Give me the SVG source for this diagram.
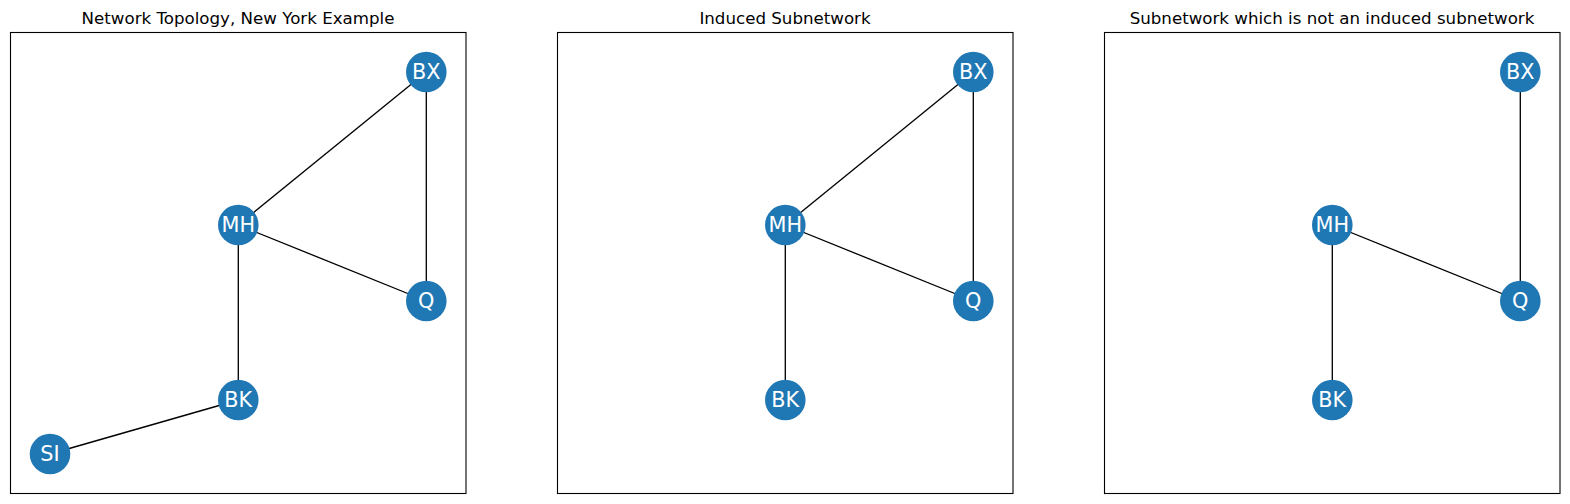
<svg xmlns="http://www.w3.org/2000/svg" width="1570" height="504" viewBox="0 0 1570 504">
<style>
.frame{fill:none;stroke:#000;stroke-width:1.1}
.title{font-family:"DejaVu Sans",sans-serif;font-size:16.67px;fill:#000;text-anchor:middle}
.edge{stroke:#000;stroke-width:1.33;fill:none}
.node circle{fill:#1f77b4}
.node text{font-family:"DejaVu Sans",sans-serif;font-size:20.8px;fill:#fff;text-anchor:middle;dominant-baseline:central}
</style>
<rect width="1570" height="504" fill="#fff"/>
<g id="panel1">
<rect class="frame" x="10.5" y="32.5" width="455.5" height="461"/>
<text class="title" x="238" y="24">Network Topology, New York Example</text>
<g id="connectors1">
<line class="edge" x1="426.3" y1="72" x2="238.3" y2="225"/>
<line class="edge" x1="426.3" y1="72" x2="426.3" y2="301"/>
<line class="edge" x1="238.3" y1="225" x2="426.3" y2="301"/>
<line class="edge" x1="238.3" y1="225" x2="238.3" y2="400"/>
<line class="edge" x1="238.3" y1="400" x2="50" y2="454"/>
</g>
<g id="p1-BX" class="node"><circle cx="426.3" cy="72" r="20.3"/><text x="426.3" y="72">BX</text></g>
<g id="p1-MH" class="node"><circle cx="238.3" cy="225" r="20.3"/><text x="238.3" y="225">MH</text></g>
<g id="p1-Q" class="node"><circle cx="426.3" cy="301" r="20.3"/><text x="426.3" y="301">Q</text></g>
<g id="p1-BK" class="node"><circle cx="238.3" cy="400" r="20.3"/><text x="238.3" y="400">BK</text></g>
<g id="p1-SI" class="node"><circle cx="50" cy="454" r="20.3"/><text x="50" y="454">SI</text></g>
</g>
<g id="panel2" transform="translate(547,0)">
<rect class="frame" x="10.5" y="32.5" width="455.5" height="461"/>
<text class="title" x="238" y="24">Induced Subnetwork</text>
<g id="connectors2">
<line class="edge" x1="426.3" y1="72" x2="238.3" y2="225"/>
<line class="edge" x1="426.3" y1="72" x2="426.3" y2="301"/>
<line class="edge" x1="238.3" y1="225" x2="426.3" y2="301"/>
<line class="edge" x1="238.3" y1="225" x2="238.3" y2="400"/>
</g>
<g id="p2-BX" class="node"><circle cx="426.3" cy="72" r="20.3"/><text x="426.3" y="72">BX</text></g>
<g id="p2-MH" class="node"><circle cx="238.3" cy="225" r="20.3"/><text x="238.3" y="225">MH</text></g>
<g id="p2-Q" class="node"><circle cx="426.3" cy="301" r="20.3"/><text x="426.3" y="301">Q</text></g>
<g id="p2-BK" class="node"><circle cx="238.3" cy="400" r="20.3"/><text x="238.3" y="400">BK</text></g>
</g>
<g id="panel3" transform="translate(1094,0)">
<rect class="frame" x="10.5" y="32.5" width="455.5" height="461"/>
<text class="title" x="238" y="24">Subnetwork which is not an induced subnetwork</text>
<g id="connectors3">
<line class="edge" x1="426.3" y1="72" x2="426.3" y2="301"/>
<line class="edge" x1="238.3" y1="225" x2="426.3" y2="301"/>
<line class="edge" x1="238.3" y1="225" x2="238.3" y2="400"/>
</g>
<g id="p3-BX" class="node"><circle cx="426.3" cy="72" r="20.3"/><text x="426.3" y="72">BX</text></g>
<g id="p3-MH" class="node"><circle cx="238.3" cy="225" r="20.3"/><text x="238.3" y="225">MH</text></g>
<g id="p3-Q" class="node"><circle cx="426.3" cy="301" r="20.3"/><text x="426.3" y="301">Q</text></g>
<g id="p3-BK" class="node"><circle cx="238.3" cy="400" r="20.3"/><text x="238.3" y="400">BK</text></g>
</g>
</svg>
